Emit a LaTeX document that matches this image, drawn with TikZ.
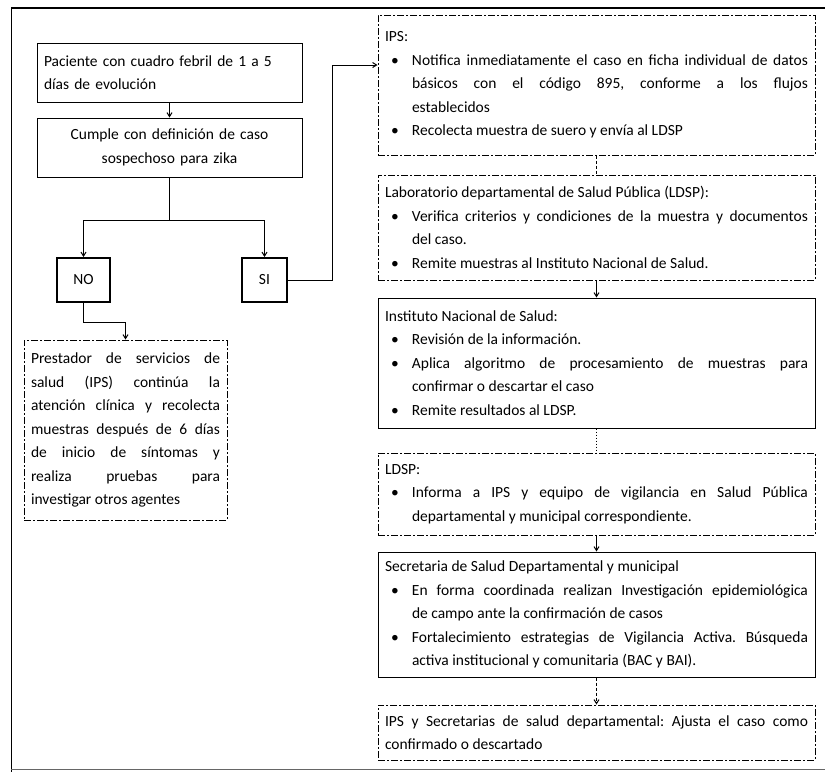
\documentclass[tikz,border=0pt]{standalone}
\usepackage{fontspec}
\setmainfont{Carlito}
\usetikzlibrary{arrows.meta}
\newcommand{\bul}[1]{\par\noindent\hangindent=27pt\hangafter=1\makebox[27pt][l]{\hspace{6pt}\textbullet}#1\par}
\newcommand{\ttl}[1]{\noindent #1\par}
\frenchspacing
\begin{document}
\begin{tikzpicture}[x=1pt,y=-1pt,
  txt/.style={font=\fontsize{15.5}{23.5}\selectfont\frenchspacing, inner ysep=3pt},
  solidbox/.style={txt, draw, line width=1pt},
  dashbox/.style={txt, draw, line width=1pt, dash pattern=on 7pt off 2pt on 2pt off 2pt},
  rbox/.style={text width=423pt, inner xsep=7pt, minimum width=437pt, align=justify},
  decbox/.style={draw, line width=2pt, font=\fontsize{15.5}{18}\selectfont, inner sep=0pt},
  conn/.style={line width=1pt},
  arr/.style={conn, -{Straight Barb[length=4pt,width=5pt]}},
  darr/.style={arr, dash pattern=on 3pt off 2pt},
]
\useasboundingbox (0,0) rectangle (825,772);
% outer frame
\draw[line width=1.3pt] (11,8) -- (825,8);
\draw[line width=1pt] (11,8) -- (11,772);
\draw[line width=0.6pt, black!60] (11,769) -- (825,769);

% left column
\node[solidbox, minimum width=265pt, minimum height=59pt, text width=251pt, inner xsep=7pt, align=left]
  (b1) at (169.5,72.5) {Paciente con cuadro febril de 1 a 5\\días de evolución};
\node[solidbox, minimum width=265pt, minimum height=59pt, text width=251pt, inner xsep=7pt, align=center]
  (b2) at (169.5,147.5) {Cumple con definición de caso\\sospechoso para zika};
\node[decbox, minimum width=53pt, minimum height=44pt] (no) at (83.5,280) {NO};
\node[decbox, minimum width=45pt, minimum height=44pt] (si) at (264.5,280) {SI};
\node[dashbox, minimum width=203pt, minimum height=180pt, text width=189pt, inner xsep=7pt, align=justify]
  (lb) at (125.5,430) {Prestador de servicios de\linebreak
  salud (IPS) continúa la\linebreak
  atención clínica y recolecta\linebreak
  muestras después de 6 días\linebreak
  de inicio de síntomas y\linebreak
  realiza pruebas para\linebreak
  investigar otros agentes\par};

% right column
\node[dashbox, rbox, minimum height=140pt] (ips) at (596.5,85) {\ttl{IPS:}
  \bul{Notifica inmediatamente el caso en ficha individual de datos\linebreak básicos con el código 895, conforme a los flujos\linebreak establecidos}
  \bul{Recolecta muestra de suero y envía al LDSP}};
\node[dashbox, rbox, minimum height=105pt] (lab) at (596.5,227.5) {\ttl{Laboratorio departamental de Salud Pública (LDSP):}
  \bul{Verifica criterios y condiciones de la muestra y documentos\linebreak del caso.}
  \bul{Remite muestras al Instituto Nacional de Salud.}};
\node[solidbox, rbox, minimum height=130pt] (ins) at (596.5,363) {\ttl{Instituto Nacional de Salud:}
  \bul{Revisión de la información.}
  \bul{Aplica algoritmo de procesamiento de muestras para\linebreak confirmar o descartar el caso}
  \bul{Remite resultados al LDSP.}};
\node[dashbox, rbox, minimum height=82pt] (ldsp) at (596.5,494) {\ttl{LDSP:}
  \bul{Informa a IPS y equipo de vigilancia en Salud Pública\linebreak departamental y municipal correspondiente.}};
\node[solidbox, rbox, minimum height=125pt] (sec) at (596.5,614.5) {\ttl{Secretaria de Salud Departamental y municipal}
  \bul{En forma coordinada realizan Investigación epidemiológica\linebreak de campo ante la confirmación de casos}
  \bul{Fortalecimiento estrategias de Vigilancia Activa. Búsqueda\linebreak activa institucional y comunitaria (BAC y BAI).}};
\node[dashbox, rbox, minimum height=55pt] (fin) at (596.5,732.5) {\noindent IPS y Secretarias de salud departamental: Ajusta el caso como\linebreak confirmado o descartado\par};

% connectors left
\draw[arr] (b1) -- (b2);
\coordinate (split) at (169.5,220);
\draw[conn] (b2.south) -- (split);
\draw[arr] (split) -| (no.north);
\draw[arr] (split) -| (si.north);
\coordinate (up) at (332,65);
\draw[arr] (si.east) -| (up) -- (up -| ips.west);
\draw[arr] (no.south) -- ++(0,19) -| (lb.north);

% connectors right
\draw[conn, dash pattern=on 3pt off 2pt] (ips.south) -- (lab.north);
\draw[arr] (lab.south) -- (ins.north);
\draw[conn, dash pattern=on 1pt off 2pt] (ins.south) -- (ldsp.north);
\draw[arr] (ldsp.south) -- (sec.north);
\draw[darr] (sec.south) -- (fin.north);
\end{tikzpicture}
\end{document}
